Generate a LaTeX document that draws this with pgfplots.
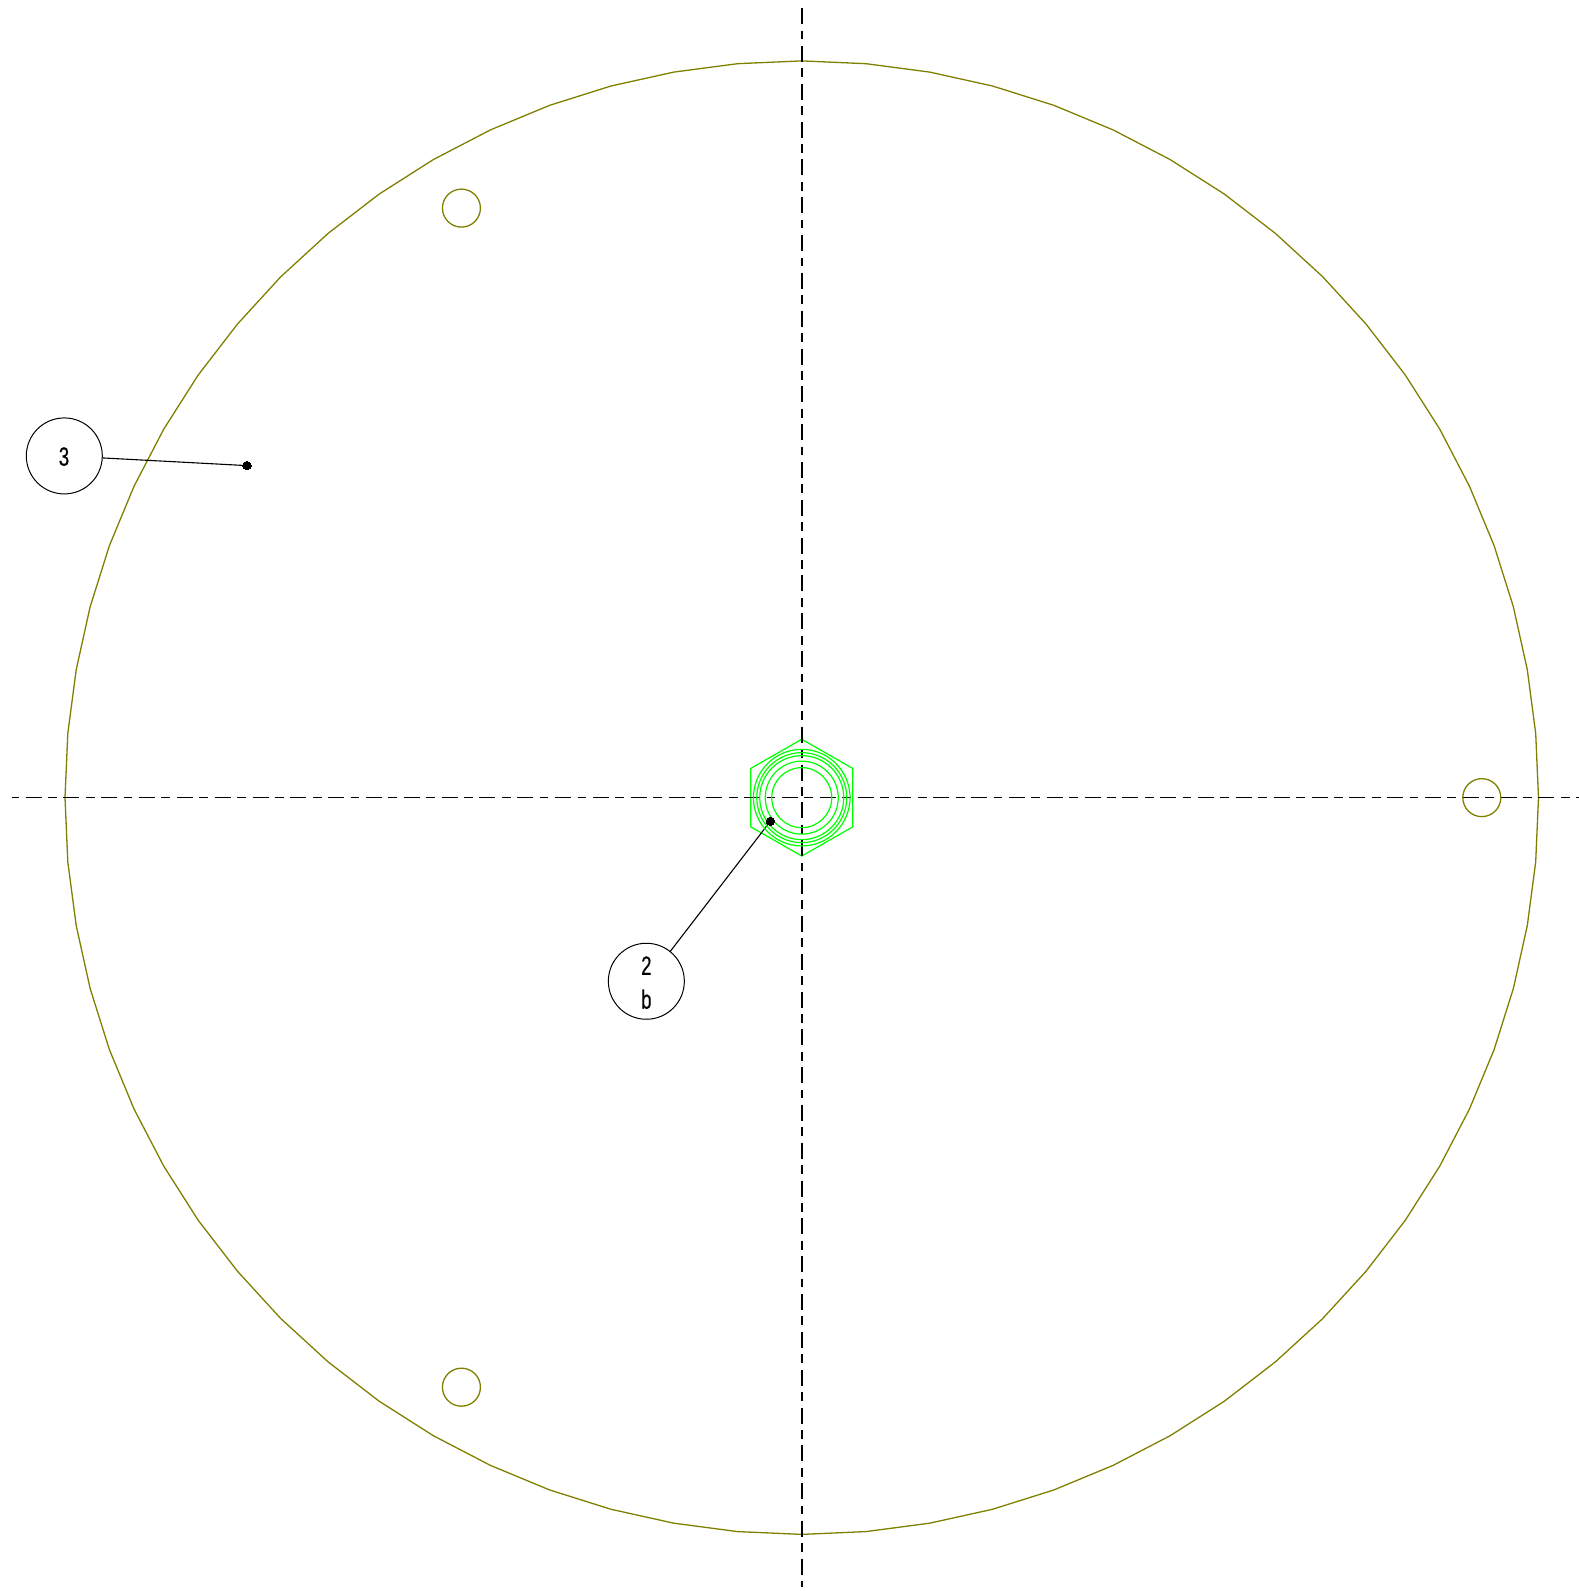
\documentclass[border=0pt]{standalone}
\usepackage{fontspec}
\setmainfont{Liberation Sans}
\newfontfamily\lab[FakeBold=0.5]{Liberation Sans}
\usepackage{pgfplots}
\pgfplotsset{compat=1.18}
\definecolor{ol}{HTML}{808000}
\definecolor{gr}{HTML}{00FF00}
\begin{document}
\begin{tikzpicture}[x=1pt,y=1pt]
\path[use as bounding box] (0,0) rectangle (1579,1591);
\begin{axis}[
  at={(0,0)},anchor=south west,
  scale only axis,width=1579pt,height=1591pt,
  xmin=-801.7,xmax=777.3,ymin=-793.3,ymax=797.7,
  hide axis,clip=false,
  cycle list={{black}},
]
% outer plate, 72-sided
\addplot[ol,line width=1.3pt,line join=round] coordinates {
(0,736.7)(64.2,733.9)(127.9,725.5)(190.7,711.6)(252.0,692.3)(311.3,667.7)
(368.4,638.0)(422.6,603.5)(473.5,564.3)(520.9,520.9)(564.3,473.5)(603.5,422.6)
(638.0,368.4)(667.7,311.3)(692.3,252.0)(711.6,190.7)(725.5,127.9)(733.9,64.2)
(736.7,0)
(733.9,-64.2)(725.5,-127.9)(711.6,-190.7)(692.3,-252.0)(667.7,-311.3)(638.0,-368.4)
(603.5,-422.6)(564.3,-473.5)(520.9,-520.9)(473.5,-564.3)(422.6,-603.5)(368.4,-638.0)
(311.3,-667.7)(252.0,-692.3)(190.7,-711.6)(127.9,-725.5)(64.2,-733.9)
(0,-736.7)
(-64.2,-733.9)(-127.9,-725.5)(-190.7,-711.6)(-252.0,-692.3)(-311.3,-667.7)(-368.4,-638.0)
(-422.6,-603.5)(-473.5,-564.3)(-520.9,-520.9)(-564.3,-473.5)(-603.5,-422.6)(-638.0,-368.4)
(-667.7,-311.3)(-692.3,-252.0)(-711.6,-190.7)(-725.5,-127.9)(-733.9,-64.2)
(-736.7,0)
(-733.9,64.2)(-725.5,127.9)(-711.6,190.7)(-692.3,252.0)(-667.7,311.3)(-638.0,368.4)
(-603.5,422.6)(-564.3,473.5)(-520.9,520.9)(-473.5,564.3)(-422.6,603.5)(-368.4,638.0)
(-311.3,667.7)(-252.0,692.3)(-190.7,711.6)(-127.9,725.5)(-64.2,733.9)
(0,736.7)};
% three holes
\addplot[only marks,mark=o,mark size=19.0pt,mark options={draw=ol,line width=1.3pt}] coordinates {(680.0,0)(-340.3,589.5)(-340.3,-589.5)};
% hexagon
\addplot[gr,line width=1.2pt,line join=miter] coordinates {(0,58.4)(51,29.2)(51,-29.2)(0,-58.4)(-51,-29.2)(-51,29.2)(0,58.4)};
% concentric circles
\addplot[only marks,mark=o,mark size=48.3pt,mark options={draw=gr,line width=1.2pt}] coordinates {(0,0)};
\addplot[only marks,mark=o,mark size=45pt,mark options={draw=gr,line width=1.2pt}] coordinates {(0,0)};
\addplot[only marks,mark=o,mark size=42pt,mark options={draw=gr,line width=1.2pt}] coordinates {(0,0)};
\addplot[only marks,mark=o,mark size=36.5pt,mark options={draw=gr,line width=1.2pt}] coordinates {(0,0)};
\addplot[only marks,mark=o,mark size=30pt,mark options={draw=gr,line width=1.2pt}] coordinates {(0,0)};
% centre lines
\addplot[black,line width=1.7pt,dash pattern=on 16pt off 6.4pt on 8.8pt off 6.62pt,dash phase=24.2pt] coordinates {(-789.7,0)(777.3,0)};
\addplot[black,line width=1.7pt,dash pattern=on 16pt off 6.4pt on 8.8pt off 6.62pt] coordinates {(0,789.4)(0,-789.6)};
% callouts
\addplot[only marks,mark=o,mark size=38pt,mark options={draw=black,line width=1pt}] coordinates {(-737.4,341.7)(-155.4,-183.6)};
\addplot[black,line width=1.1pt] coordinates {(-699.4,339.7)(-554.7,332)};
\addplot[black,line width=1.1pt] coordinates {(-131.7,-154)(-31.4,-23.6)};
\addplot[only marks,mark=*,mark size=4.2pt,mark options={draw=black,fill=black,line width=0pt}] coordinates {(-554.7,332)(-31.4,-23.6)};
\node[font=\lab\fontsize{26.5}{26.5}\selectfont,xscale=.7,inner sep=0pt] at (axis cs:-737.7,341) {3};
\node[font=\lab\fontsize{26.5}{26.5}\selectfont,xscale=.7,inner sep=0pt] at (axis cs:-155.4,-168) {2};
\node[font=\lab\fontsize{26.5}{26.5}\selectfont,xscale=.7,inner sep=0pt] at (axis cs:-155.4,-201.6) {b};
\end{axis}
\end{tikzpicture}
\end{document}
